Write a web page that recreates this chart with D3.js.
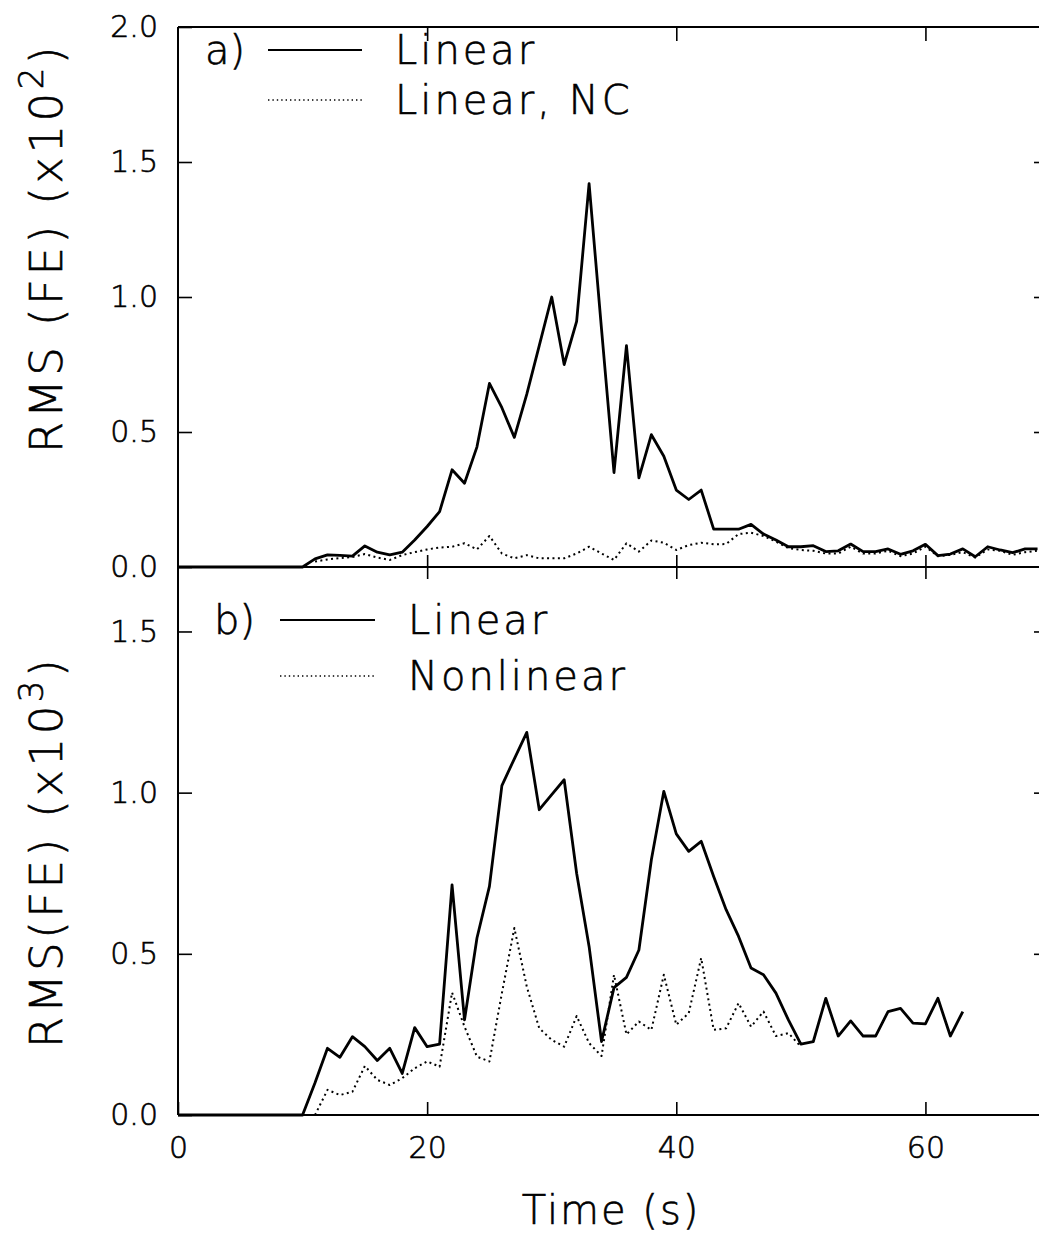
<!DOCTYPE html>
<html><head><meta charset="utf-8">
<script src="https://cdn.jsdelivr.net/npm/d3@7"></script>
<style>
body{margin:0;background:#fff}
svg{display:block}
text{font-family:"DejaVu Sans",sans-serif;font-weight:200;fill:#000;stroke:#000;stroke-width:0.6px}
</style></head>
<body><svg id="chart" width="1039" height="1242"></svg>
<script>
// ---------- data ----------
const xTicks = [0, 20, 40, 60];
const yTicksA = [0, 0.5, 1.0, 1.5, 2.0];
const yTicksB = [0, 0.5, 1.0, 1.5];

// panel a: Linear (t = 0..69)
const aLinearT = d3.range(0, 70);
const aLinear = [0,0,0,0,0,0,0,0,0,0, 0,0.03,0.045,0.043,0.04,0.078,0.055,0.045,0.055,0.1,
  0.15,0.205,0.36,0.31,0.445,0.68,0.59,0.48,0.64,0.82,
  1.0,0.75,0.91,1.42,0.88,0.35,0.82,0.33,0.49,0.41,
  0.285,0.25,0.285,0.14,0.14,0.14,0.158,0.122,0.1,0.075,
  0.075,0.079,0.057,0.06,0.085,0.057,0.057,0.067,0.047,0.06,
  0.084,0.042,0.048,0.067,0.038,0.075,0.063,0.053,0.067,0.067];
// panel a: Linear, NC (t = 11..69)
const aNCT = d3.range(11, 70);
const aNC = [0.02,0.028,0.033,0.037,0.048,0.035,0.026,0.044,0.055,
  0.065,0.072,0.075,0.088,0.065,0.115,0.05,0.032,0.044,0.032,
  0.032,0.032,0.05,0.075,0.05,0.026,0.088,0.057,0.098,0.09,
  0.063,0.081,0.09,0.084,0.085,0.122,0.127,0.115,0.094,0.07,
  0.063,0.06,0.05,0.05,0.075,0.05,0.05,0.06,0.04,0.05,
  0.075,0.04,0.045,0.055,0.035,0.065,0.06,0.045,0.055,0.06];
// panel b: Linear (t = 0..63)
const bLinearT = d3.range(0, 64);
const bLinear = [0,0,0,0,0,0,0,0,0,0, 0,0.1,0.207,0.179,0.243,0.212,0.169,0.207,0.129,0.271,
  0.212,0.22,0.714,0.295,0.549,0.709,1.022,1.105,1.187,0.947,
  0.994,1.04,0.75,0.523,0.228,0.395,0.427,0.512,0.792,1.004,
  0.872,0.818,0.849,0.74,0.637,0.554,0.456,0.435,0.378,0.295,
  0.22,0.228,0.362,0.245,0.292,0.245,0.245,0.321,0.331,0.285,
  0.283,0.362,0.245,0.321];
// panel b: Nonlinear (t = 11..50)
const bNonlinearT = d3.range(11, 51);
const bNonlinear = [0,0.078,0.062,0.072,0.152,0.109,0.093,0.114,0.145,
  0.166,0.15,0.38,0.274,0.181,0.166,0.378,0.58,0.398,0.269,
  0.233,0.212,0.307,0.223,0.183,0.435,0.25,0.29,0.264,0.435,
  0.28,0.316,0.487,0.264,0.269,0.347,0.274,0.321,0.245,0.254,
  0.212];

// ---------- layout ----------
const svg = d3.select("#chart");
const L = 178, R = 1050, TOP = 27, MID = 567, BOT = 1115;
const x = d3.scaleLinear().domain([0, 70]).range([L, R]);
const yA = d3.scaleLinear().domain([0, 2]).range([MID, TOP]);
const yB = d3.scaleLinear().domain([0, 1.7]).range([BOT, MID]);

const frame = svg.append("g").attr("stroke", "#000").attr("stroke-width", 2).attr("fill", "none");
frame.append("line").attr("x1", L).attr("x2", L).attr("y1", TOP).attr("y2", BOT);
frame.append("line").attr("x1", L).attr("x2", R).attr("y1", TOP).attr("y2", TOP);
frame.append("line").attr("x1", L).attr("x2", R).attr("y1", MID).attr("y2", MID);
frame.append("line").attr("x1", L).attr("x2", R).attr("y1", BOT).attr("y2", BOT);
frame.append("line").attr("x1", R).attr("x2", R).attr("y1", TOP).attr("y2", BOT);

function styleAxis(g, fs) {
  g.select(".domain").remove();
  g.selectAll(".tick line").attr("stroke", "#000").attr("stroke-width", 1.6);
  g.selectAll(".tick text").attr("font-size", fs).attr("font-family", "DejaVu Sans").attr("fill", "#000");
}

// left y axes
svg.append("g").attr("transform", `translate(${L},0)`)
  .call(d3.axisLeft(yA).tickValues(yTicksA).tickFormat(d3.format(".1f")).tickSizeInner(-14).tickSizeOuter(0).tickPadding(20))
  .call(g => styleAxis(g, 30));
svg.append("g").attr("transform", `translate(${L},0)`)
  .call(d3.axisLeft(yB).tickValues(yTicksB).tickFormat(d3.format(".1f")).tickSizeInner(-14).tickSizeOuter(0).tickPadding(20))
  .call(g => styleAxis(g, 30));
// right y ticks
svg.append("g").attr("transform", `translate(${R},0)`)
  .call(d3.axisRight(yA).tickValues([0.5, 1.0, 1.5]).tickFormat("").tickSizeInner(-16).tickSizeOuter(0))
  .call(g => styleAxis(g, 30));
svg.append("g").attr("transform", `translate(${R},0)`)
  .call(d3.axisRight(yB).tickValues([0.5, 1.0, 1.5]).tickFormat("").tickSizeInner(-16).tickSizeOuter(0))
  .call(g => styleAxis(g, 30));
// bottom x axis
svg.append("g").attr("transform", `translate(0,${BOT})`)
  .call(d3.axisBottom(x).tickValues(xTicks).tickFormat(d3.format("d")).tickSizeInner(-13).tickSizeOuter(0).tickPadding(22))
  .call(g => styleAxis(g, 30));
// top x ticks
svg.append("g").attr("transform", `translate(0,${TOP})`)
  .call(d3.axisTop(x).tickValues(xTicks.slice(1)).tickFormat("").tickSizeInner(-14).tickSizeOuter(0))
  .call(g => styleAxis(g, 30));
// middle shared ticks (both directions)
svg.append("g").attr("transform", `translate(0,${MID})`)
  .call(d3.axisTop(x).tickValues(xTicks.slice(1)).tickFormat("").tickSizeInner(12).tickSizeOuter(0))
  .call(g => styleAxis(g, 30));
svg.append("g").attr("transform", `translate(0,${MID})`)
  .call(d3.axisBottom(x).tickValues(xTicks.slice(1)).tickFormat("").tickSizeInner(12).tickSizeOuter(0))
  .call(g => styleAxis(g, 30));

// ---------- lines ----------
function drawLine(ts, vs, y, dotted) {
  const pts = ts.map((t, i) => [t, vs[i]]);
  const line = d3.line().x(d => x(d[0])).y(d => y(d[1]));
  const p = svg.append("path").datum(pts).attr("d", line)
    .attr("fill", "none").attr("stroke", "#000").attr("stroke-linejoin", "round");
  if (dotted) p.attr("stroke-width", 2).attr("stroke-dasharray", "2,3.4");
  else p.attr("stroke-width", 2.8);
}
drawLine(aNCT, aNC, yA, true);
drawLine(aLinearT, aLinear, yA, false);
drawLine(bNonlinearT, bNonlinear, yB, true);
drawLine(bLinearT, bLinear, yB, false);

// ---------- legends ----------
function legend(label, lx, sx1, sx2, tx, y1, y2, names) {
  const g = svg.append("g");
  g.append("text").attr("x", lx).attr("y", y1).attr("dy", "0.36em").attr("font-size", 40).text(label);
  g.append("line").attr("x1", sx1).attr("x2", sx2).attr("y1", y1).attr("y2", y1)
    .attr("stroke", "#000").attr("stroke-width", 2.2);
  g.append("line").attr("x1", sx1).attr("x2", sx2).attr("y1", y2).attr("y2", y2)
    .attr("stroke", "#000").attr("stroke-width", 1.4).attr("stroke-dasharray", "1.4,3");
  g.append("text").attr("x", tx).attr("y", y1).attr("dy", "0.36em").attr("font-size", 40)
    .attr("letter-spacing", 3).text(names[0]);
  g.append("text").attr("x", tx).attr("y", y2).attr("dy", "0.36em").attr("font-size", 40)
    .attr("letter-spacing", 3).text(names[1]);
}
legend("a)", 205, 268, 362, 395, 50, 100, ["Linear", "Linear, NC"]);
legend("b)", 214, 280, 375, 408, 620, 676, ["Linear", "Nonlinear"]);

// ---------- axis titles ----------
function yTitle(cx, cy, main, sup) {
  const t = svg.append("text").attr("transform", `translate(${cx},${cy}) rotate(-90)`)
    .attr("text-anchor", "middle").attr("font-size", 45).attr("letter-spacing", 3.5);
  t.append("tspan").text(main);
  t.append("tspan").attr("font-size", 34).attr("dy", "-0.55em").text(sup);
  t.append("tspan").attr("dy", "0.42em").text(")");
}
yTitle(62, 248, "RMS (FE) (x10", "2");
yTitle(62, 852, "RMS(FE) (x10", "3");

svg.append("text").attr("x", 611).attr("y", 1224).attr("text-anchor", "middle")
  .attr("font-size", 40).attr("letter-spacing", 2).text("Time (s)");
</script></body></html>
